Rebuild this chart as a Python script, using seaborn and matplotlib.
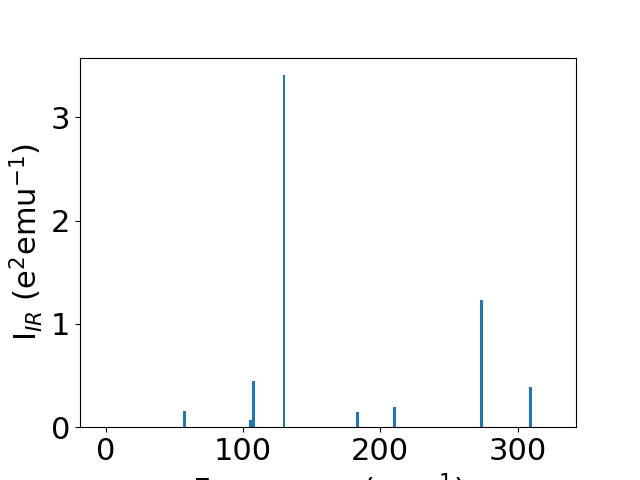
import numpy as np
import pandas as pd
import matplotlib
matplotlib.use("Agg")
import matplotlib.pyplot as plt
import seaborn as sns

# IR frequencies (cm^-1) and intensities (e^2 emu^-1)
freq = [57.5, 105.8, 107.8, 130.0, 183.2, 210.6, 273.5, 309.2]
intensity = [0.155, 0.07, 0.445, 3.407, 0.145, 0.20, 1.23, 0.387]

df = pd.DataFrame({"freq": freq, "intensity": intensity})

fig, ax = plt.subplots(figsize=(6.4, 4.8), dpi=100)
sns.barplot(data=df, x="freq", y="intensity", native_scale=True,
            color="#1f77b4", saturation=1, width=1.0, ax=ax)

ax.set_xlim(-18.6, 342.5)
ax.set_ylim(0, 3.577)
ax.set_xticks([0, 100, 200, 300])
ax.set_yticks([0, 1, 2, 3])
ax.tick_params(labelsize=22)
ax.set_xlabel(r"Frequency (cm$^{-1}$)", fontsize=22)
ax.set_ylabel(r"I$_{IR}$ (e$^2$emu$^{-1}$)", fontsize=22)

plt.savefig("out.png", dpi=100)
